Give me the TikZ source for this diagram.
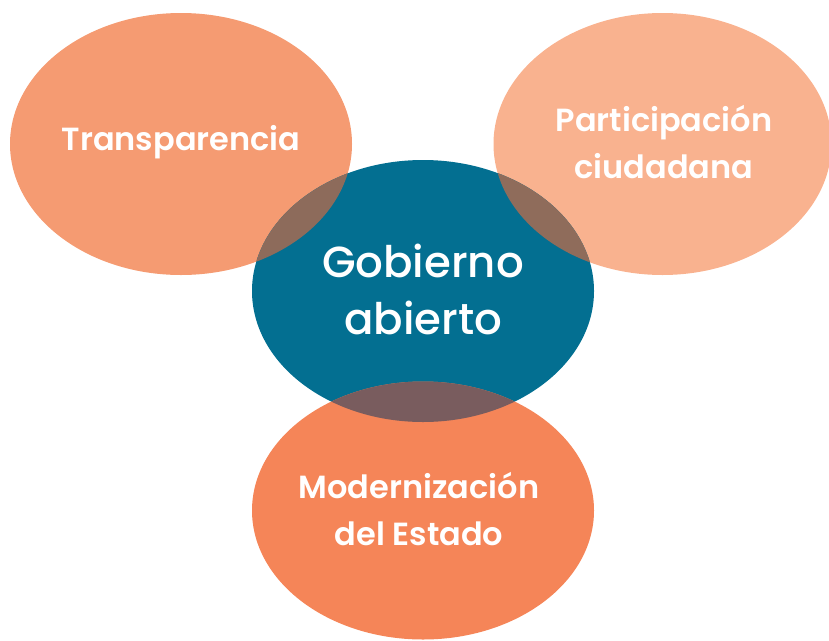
\documentclass[tikz,border=0pt]{standalone}
\usepackage{fontspec}
\setmainfont{Poppins}[UprightFont=* Medium, BoldFont=* SemiBold]
\definecolor{cT}{HTML}{F59B72}
\definecolor{cP}{HTML}{F9B28F}
\definecolor{cG}{HTML}{036F91}
\definecolor{cM}{HTML}{F58558}
\definecolor{oTG}{HTML}{8D6B5B}
\definecolor{oPG}{HTML}{8F6C5B}
\definecolor{oMG}{HTML}{795C5E}
\tikzset{
  lbl/.style={text=white, align=center, font=\bfseries\fontsize{32}{47}\selectfont, inner sep=0pt},
  lblbig/.style={text=white, align=center, font=\fontsize{43.5}{57}\selectfont, inner sep=0pt}
}
\begin{document}
\begin{tikzpicture}[x=1pt,y=-1pt]
\useasboundingbox (0,0) rectangle (829,640);
\def\eT{(181,144) ellipse [x radius=171, y radius=131]}
\def\eP{(662.5,144) ellipse [x radius=169, y radius=131]}
\def\eG{(423,291) ellipse [x radius=171, y radius=131]}
\def\eM{(423,510.5) ellipse [x radius=171, y radius=129]}
\fill[cT] \eT;
\fill[cP] \eP;
\fill[cG] \eG;
\fill[cM] \eM;
\begin{scope}\clip \eG; \fill[oTG] \eT; \end{scope}
\begin{scope}\clip \eG; \fill[oPG] \eP; \end{scope}
\begin{scope}\clip \eG; \fill[oMG] \eM; \end{scope}
\node[lbl] (t) at (181,142) {Transparencia};
\node[lbl] (p) at (664,142) {Participación\\ciudadana};
\node[lblbig] (g) at (423,289) {Gobierno\\abierto};
\node[lbl] (m) at (419,509) {Modernización\\del Estado};
\end{tikzpicture}
\end{document}
